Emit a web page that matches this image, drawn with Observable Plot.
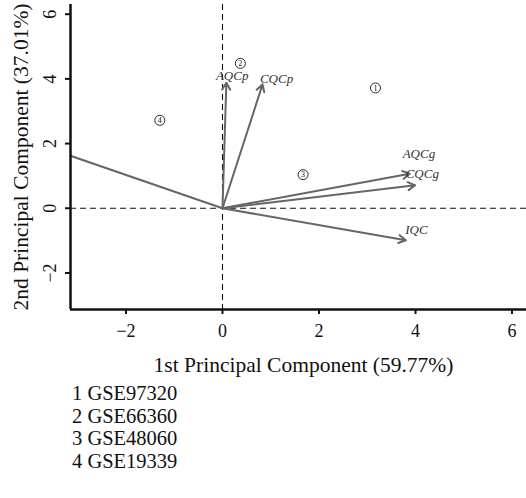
<!DOCTYPE html>
<html>
<head>
<meta charset="utf-8">
<script src="https://cdn.jsdelivr.net/npm/d3@7"></script>
<script src="https://cdn.jsdelivr.net/npm/@observablehq/plot@0.6"></script>
<style>
  body { margin: 0; background: white; font-family: "Liberation Serif", serif; }
  #legend { padding-left: 72px; margin-top: -3px; font-size: 20.5px; line-height: 22.7px; color: #111; }
</style>
</head>
<body>
<div id="chart"></div>
<div id="legend"></div>
<script>
// Variable loadings (arrows)
const arrowVars = ["AQCp", "CQCp", "AQCg", "CQCg", "IQC", ""];
const arrowX = [0.08, 0.83, 3.88, 3.99, 3.80, -4.6];
const arrowY = [3.88, 3.83, 1.07, 0.71, -0.99, 2.37];
const labelX = [0.20, 1.12, 4.07, 4.14, 4.02, -5.0];
const labelY = [4.09, 4.00, 1.69, 1.07, -0.68, 2.6];

// Sample scores
const sampleIds = ["1", "2", "3", "4"];
const sampleX = [3.17, 0.37, 1.67, -1.30];
const sampleY = [3.72, 4.48, 1.04, 2.72];
const datasets = ["GSE97320", "GSE66360", "GSE48060", "GSE19339"];

const xTicks = [-2, 0, 2, 4, 6];
const yTicks = [-2, 0, 2, 4, 6];
const xDomain = [-3.15, 6.3];
const yDomain = [-3.13, 6.3];
const xTitle = "1st Principal Component (59.77%)";
const yTitle = "2nd Principal Component (37.01%)";

const fmt = d => d < 0 ? "\u2212" + (-d) : String(d);
const arrows = arrowVars.map((v, i) => ({v, x: arrowX[i], y: arrowY[i], lx: labelX[i], ly: labelY[i]}));
const samples = sampleIds.map((id, i) => ({id, x: sampleX[i], y: sampleY[i]}));

const chart = Plot.plot({
  width: 526,
  height: 385,
  marginLeft: 70,
  marginRight: 0,
  marginTop: 4,
  marginBottom: 76,
  x: {domain: xDomain},
  y: {domain: yDomain},
  style: {fontFamily: "Liberation Serif", fontSize: "18px", color: "#111", background: "white"},
  marks: [
    Plot.ruleX([0], {strokeDasharray: "6,4", strokeWidth: 1.1, stroke: "#111"}),
    Plot.ruleY([0], {strokeDasharray: "6,4", strokeWidth: 1.1, stroke: "#111"}),
    Plot.arrow(arrows, {x1: 0, y1: 0, x2: "x", y2: "y", stroke: "#666", strokeWidth: 2, headLength: 6, clip: true}),
    Plot.text(arrows.filter(d => d.v), {x: "lx", y: "ly", text: "v", fontStyle: "italic", fontSize: 13, fill: "#333"}),
    Plot.dot(samples, {x: "x", y: "y", r: 5, stroke: "#111", strokeWidth: 0.9, fill: "white"}),
    Plot.text(samples, {x: "x", y: "y", text: "id", fontSize: 8, fill: "#111"}),
    Plot.ruleX([xDomain[0]], {stroke: "#111", strokeWidth: 2.5}),
    Plot.ruleY([yDomain[0]], {stroke: "#111", strokeWidth: 2.5}),
    Plot.axisX({ticks: xTicks, tickSize: 5, tickPadding: 10, strokeWidth: 2, fontSize: 18, label: null, tickFormat: fmt}),
    Plot.axisY({ticks: yTicks, tickSize: 5, strokeWidth: 2, tickFormat: () => "", label: null}),
    Plot.text(yTicks, {x: xDomain[0], y: d => d, text: fmt, dx: -20, rotate: -90, fontSize: 18, fill: "#111"}),
    Plot.text([xTitle], {frameAnchor: "bottom", dx: 5, dy: 62, fontSize: 21.5, fill: "#111"}),
    Plot.text([yTitle], {frameAnchor: "left", textAnchor: "middle", dx: -49, rotate: -90, fontSize: 21.5, fill: "#111"})
  ]
});
document.getElementById("chart").appendChild(chart);

document.getElementById("legend").innerHTML = datasets.map((d, i) => `<div>${i + 1} ${d}</div>`).join("");
</script>
</body>
</html>
